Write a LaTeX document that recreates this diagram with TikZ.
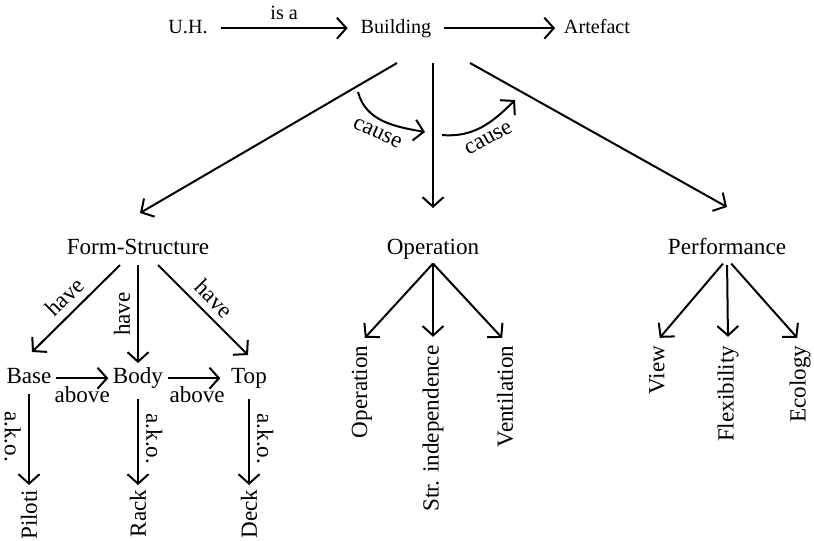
\documentclass[tikz,border=0pt]{standalone}
\usepackage{fontspec}
\setmainfont{Liberation Serif}
\usetikzlibrary{arrows.meta}

\begin{document}
\begin{tikzpicture}[
        x=0.476pt, y=0.476pt,
        font=\fontsize{11}{13}\selectfont,
        smalltext/.style={font=\fontsize{9.6}{11.5}\selectfont},
        wordnode/.style={anchor=base, inner sep=2pt},
        topnode/.style={wordnode, smalltext},
        leafnode/.style={anchor=east, rotate=90, inner sep=2pt},
        linkline/.style={line width=0.95pt, -{Straight Barb[length=4.5pt, width=10pt]}},
    ]
    \useasboundingbox (0,0) rectangle (814,-540);

    % Objects
    \node[topnode] (uh) at (188,-33) {U.H.};
    \node[topnode] (building) at (396,-33) {Building};
    \node[topnode] (artefact) at (597,-33) {Artefact};

    \node[wordnode] (formStructure) at (138,-254) {Form-Structure};
    \node[wordnode] (operation) at (433,-254) {Operation};
    \node[wordnode] (performance) at (727,-254) {Performance};

    \node[wordnode] (base) at (29,-383) {Base};
    \node[wordnode] (body) at (138,-383) {Body};
    \node[wordnode] (top) at (249,-383) {Top};

    \node[leafnode] (piloti) at (29,-485) {Piloti};
    \node[leafnode] (rack) at (138,-485) {Rack};
    \node[leafnode] (deck) at (249,-485) {Deck};

    \node[leafnode] (opOperation) at (362,-341) {Operation};
    \node[leafnode] (opIndependence) at (433,-341) {Str. independence};
    \node[leafnode] (opVentilation) at (505,-341) {Ventilation};

    \node[leafnode] (perfView) at (657,-341) {View};
    \node[leafnode] (perfFlexibility) at (728,-341) {Flexibility};
    \node[leafnode] (perfEcology) at (800,-341) {Ecology};

    \coordinate (causeLeftFrom) at (358,-92);
    \coordinate (causeLeftTo) at (425,-132);
    \coordinate (causeRightFrom) at (442,-135);
    \coordinate (causeRightTo) at (515,-100);

    % Lines
    \draw[linkline, shorten <=4pt, shorten >=4pt] (uh.mid east) -- node[above, smalltext] {is a} (building.mid west);
    \draw[linkline, shorten <=4pt, shorten >=2pt] (building.mid east) -- (artefact.mid west);

    \draw[linkline] ([shift={(1,-30)}]building.base) -- ([shift={(2,41)}]formStructure.base);
    \draw[linkline] ([shift={(37,-30)}]building.base) -- ([shift={(0,46)}]operation.base);
    \draw[linkline] ([shift={(74,-30)}]building.base) -- ([shift={(0,47)}]performance.base);

    \draw[linkline] (causeLeftFrom) to[out=-75, in=170] node[sloped, below] {cause} (causeLeftTo);
    \draw[linkline] (causeRightFrom) to[out=-5, in=225] node[sloped, below] {cause} (causeRightTo);

    \draw[linkline] ([shift={(-18,-11)}]formStructure.base) -- node[sloped, above] {have} ([shift={(3,31)}]base.base);
    \draw[linkline] ([shift={(0,-11)}]formStructure.base) -- node[rotate=90, above] {have} ([shift={(0,20)}]body.base);
    \draw[linkline] ([shift={(20,-11)}]formStructure.base) -- node[sloped, above] {have} ([shift={(-1,28)}]top.base);

    \draw[linkline] (base.mid east) -- node[below] {above} (body.mid west);
    \draw[linkline, shorten >=3pt] (body.mid east) -- node[below] {above} (top.mid west);

    \draw[linkline, shorten <=3pt] (base.south) -- node[sloped, below] {a.k.o.} (piloti.east);
    \draw[linkline, shorten <=3pt] (body.south) -- node[sloped, above] {a.k.o.} (rack.east);
    \draw[linkline, shorten <=3pt] (top.south) -- node[sloped, above] {a.k.o.} (deck.east);

    \draw[linkline, shorten >=2pt] (operation.south) -- (opOperation.east);
    \draw[linkline, shorten >=2pt] (operation.south) -- (opIndependence.east);
    \draw[linkline, shorten >=2pt] (operation.south) -- (opVentilation.east);

    \draw[linkline, shorten <=3pt, shorten >=2pt] (performance.south) -- (perfView.east);
    \draw[linkline, shorten <=3pt, shorten >=2pt] (performance.south) -- (perfFlexibility.east);
    \draw[linkline, shorten <=3pt, shorten >=2pt] (performance.south) -- (perfEcology.east);

\end{tikzpicture}
\end{document}
